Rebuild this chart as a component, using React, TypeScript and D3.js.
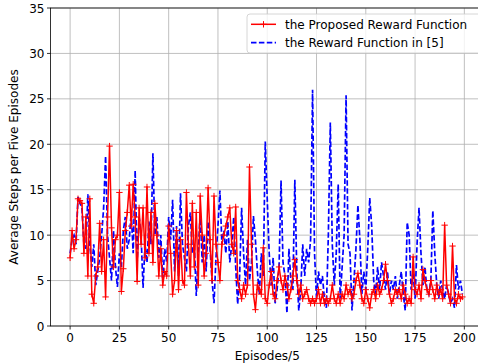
import * as d3 from 'd3'
import React, { useEffect, useRef } from 'react'

const proposed = [
  7.5, 10.5, 8.5, 9.5, 14.0, 13.8, 13.5, 8.0, 12.0, 5.5,
  14.0, 3.5, 2.5, 5.5, 6.5, 11.3, 6.0, 9.5, 3.2, 12.0,
  19.8, 10.8, 6.5, 9.5, 10.0, 14.7, 3.8, 6.3, 10.5, 12.5,
  15.5, 11.0, 15.6, 12.0, 4.9, 13.0, 9.0, 13.0, 7.5, 15.3,
  8.0, 12.5, 7.0, 13.5, 10.0, 5.5, 8.5, 4.5, 6.0, 5.5,
  11.0, 8.0, 3.5, 5.0, 10.5, 4.0, 9.5, 5.0, 4.5, 14.7,
  9.0, 5.5, 13.5, 6.5, 12.5, 4.5, 14.3, 10.0, 5.5, 8.0,
  15.2, 9.5, 5.0, 14.3, 9.0, 7.0, 5.0, 9.0, 10.0, 11.0,
  12.0, 13.0, 9.0, 8.0, 13.1, 5.0, 4.0, 3.0, 4.5, 3.5,
  4.5, 17.5, 9.0, 3.5, 1.8, 4.5, 4.0, 3.5, 8.6, 3.0,
  2.5, 4.5, 6.0, 3.5, 3.0, 5.0, 6.5, 5.0, 4.0, 5.5,
  4.5, 3.0, 4.0, 5.5, 7.3, 5.0, 3.5, 4.5, 3.0, 3.5,
  4.0, 3.0, 2.5, 3.0, 2.5, 3.0, 4.0, 2.5, 3.5, 2.5,
  3.0, 2.5, 3.0, 4.5, 3.0, 2.5, 3.5, 2.5, 3.5, 3.0,
  4.5, 3.5, 4.0, 3.0, 3.5, 5.0, 5.8, 4.5, 3.0, 2.5,
  4.0, 3.0, 2.0, 3.5, 4.0, 3.0, 4.5, 3.5, 4.0, 5.0,
  6.8, 5.0, 3.5, 2.5, 3.0, 4.0, 3.5, 4.0, 3.0, 4.5,
  3.5, 2.5, 3.0, 2.5, 7.6, 4.0, 3.5, 4.5, 3.0, 6.2,
  5.0, 4.0, 3.5, 5.0, 4.0, 3.0, 4.5, 3.5, 4.0, 3.0,
  11.1, 4.5, 3.5, 2.5, 8.8, 3.0, 2.5, 3.5, 3.0, 3.2,
]

const ref5 = [
  8.0, 9.5, 10.0, 9.0, 14.2, 13.5, 13.0, 9.0, 8.5, 14.5,
  9.0, 6.5, 9.0, 4.5, 6.0, 7.5, 10.0, 13.0, 18.7, 10.0,
  7.5, 5.0, 10.5, 6.5, 4.3, 8.0, 6.5, 10.5, 12.0, 8.5,
  9.5, 12.5, 8.0, 17.1, 7.0, 12.0, 10.0, 4.2, 9.0, 7.0,
  11.5, 9.0, 19.0, 10.0, 12.0, 7.5, 10.0, 5.0, 8.5, 7.0,
  12.0, 9.5, 13.9, 6.0, 11.0, 5.5, 14.6, 9.0, 7.5, 6.0,
  11.0, 12.5, 8.0, 9.0, 3.3, 8.0, 12.5, 7.0, 10.0, 6.0,
  11.5, 8.5, 5.0, 2.5, 7.5, 11.0, 14.9, 9.0, 10.5, 8.0,
  11.5, 7.0, 9.0, 12.0, 6.5, 2.4, 5.5, 13.0, 8.0, 4.5,
  9.5, 5.0, 7.0, 12.1, 9.5, 6.0, 3.5, 8.0, 5.5, 20.3,
  14.0, 8.0, 4.5, 7.5, 2.5, 4.0, 6.5, 16.0, 7.0, 5.5,
  1.4, 8.5, 5.0, 4.0, 16.1, 6.0, 1.7, 4.0, 9.0, 5.5,
  8.5, 7.0, 9.5, 26.0, 8.0, 3.0, 6.0, 4.5, 5.5, 3.0,
  2.0, 10.0, 22.4, 9.0, 4.5, 8.0, 15.6, 3.0, 6.5, 10.0,
  25.4, 9.0, 8.0, 1.7, 5.0, 8.5, 13.3, 9.5, 3.5, 6.0,
  4.0, 8.5, 14.1, 11.0, 5.0, 3.5, 6.5, 4.0, 7.0, 5.5,
  4.0, 6.0, 3.5, 5.0, 4.0, 5.5, 3.0, 4.5, 6.0, 3.5,
  1.7, 11.4, 10.0, 4.0, 6.0, 3.0, 9.0, 13.0, 8.0, 4.5,
  6.5, 4.0, 3.5, 5.0, 12.7, 8.0, 4.5, 3.0, 5.0, 4.0,
  3.0, 4.5, 3.5, 2.5, 3.0, 2.0, 6.7, 4.0, 5.0, 3.5,
]

const xTicks = [0, 25, 50, 75, 100, 125, 150, 175, 200]
const yTicks = [0, 5, 10, 15, 20, 25, 30, 35]
const legendLabels = ['the Proposed Reward Function', 'the Reward Function in [5]']

const Chart = () => {
  const chartRef = useRef(null)

  useEffect(() => {
    const width = 478
    const height = 364
    const left = 50.5
    const right = 482
    const top = 8
    const bottom = 326
    const font = 'DejaVu Sans, sans-serif'
    const fs = 12

    const svg = d3.select(chartRef.current).attr('width', width).attr('height', height)
    svg.selectAll('*').remove()
    svg.append('rect').attr('width', width).attr('height', height).attr('fill', '#fff')

    const x = d3.scaleLinear().domain([-9.95, 208.95]).range([left, right])
    const y = d3.scaleLinear().domain([0, 35]).range([bottom, top])

    svg
      .append('defs')
      .append('clipPath')
      .attr('id', 'plotclip')
      .append('rect')
      .attr('x', left)
      .attr('y', top)
      .attr('width', right - left)
      .attr('height', bottom - top)

    // grid
    const grid = svg.append('g')
    xTicks.forEach((t) => {
      grid
        .append('line')
        .attr('x1', x(t)).attr('x2', x(t))
        .attr('y1', top).attr('y2', bottom)
        .attr('stroke', '#b0b0b0').attr('stroke-width', 0.8)
    })
    yTicks.forEach((t) => {
      grid
        .append('line')
        .attr('x1', left).attr('x2', right)
        .attr('y1', y(t)).attr('y2', y(t))
        .attr('stroke', '#b0b0b0').attr('stroke-width', 0.8)
    })

    const line = d3
      .line<number>()
      .x((d, i) => x(i))
      .y((d) => y(d))

    const plot = svg.append('g').attr('clip-path', 'url(#plotclip)')

    plot
      .append('path')
      .datum(ref5)
      .attr('d', line)
      .attr('fill', 'none')
      .attr('stroke', '#0000ff')
      .attr('stroke-width', 1.7)
      .attr('stroke-dasharray', '5.5,2.4')

    plot
      .append('path')
      .datum(proposed)
      .attr('d', line)
      .attr('fill', 'none')
      .attr('stroke', '#ff0000')
      .attr('stroke-width', 1.5)
      .attr('stroke-linejoin', 'round')

    const m = 3.2
    plot
      .selectAll('.plus')
      .data(proposed)
      .enter()
      .append('path')
      .attr('d', (d, i) => {
        const cx = x(i)
        const cy = y(d)
        return `M${cx - m},${cy}H${cx + m}M${cx},${cy - m}V${cy + m}`
      })
      .attr('stroke', '#ff0000')
      .attr('stroke-width', 1)

    // spines
    svg
      .append('rect')
      .attr('x', left).attr('y', top)
      .attr('width', right - left).attr('height', bottom - top)
      .attr('fill', 'none').attr('stroke', '#000').attr('stroke-width', 0.8)

    // ticks
    xTicks.forEach((t) => {
      svg.append('line')
        .attr('x1', x(t)).attr('x2', x(t))
        .attr('y1', bottom).attr('y2', bottom + 3.5)
        .attr('stroke', '#000').attr('stroke-width', 0.8)
      svg.append('text')
        .attr('x', x(t)).attr('y', bottom + 16)
        .attr('text-anchor', 'middle')
        .attr('font-family', font).attr('font-size', fs)
        .text(t)
    })
    yTicks.forEach((t) => {
      svg.append('line')
        .attr('x1', left - 3.5).attr('x2', left)
        .attr('y1', y(t)).attr('y2', y(t))
        .attr('stroke', '#000').attr('stroke-width', 0.8)
      svg.append('text')
        .attr('x', left - 6).attr('y', y(t) + 4.5)
        .attr('text-anchor', 'end')
        .attr('font-family', font).attr('font-size', fs)
        .text(t)
    })

    svg.append('text')
      .attr('x', (x(0) + x(200)) / 2).attr('y', 360)
      .attr('text-anchor', 'middle')
      .attr('font-family', font).attr('font-size', fs)
      .text('Episodes/5')

    svg.append('text')
      .attr('transform', `translate(18, ${(top + bottom) / 2}) rotate(-90)`)
      .attr('text-anchor', 'middle')
      .attr('font-family', font).attr('font-size', fs)
      .text('Average Steps per Five Episodes')

    // legend
    const lg = svg.append('g')
    lg.append('rect')
      .attr('x', 247).attr('y', 14)
      .attr('width', 240).attr('height', 39)
      .attr('rx', 3)
      .attr('fill', '#fff').attr('fill-opacity', 0.8)
      .attr('stroke', '#cccccc').attr('stroke-width', 0.8)

    const rows = [24.3, 42.7]
    lg.append('line')
      .attr('x1', 251).attr('x2', 276)
      .attr('y1', rows[0]).attr('y2', rows[0])
      .attr('stroke', '#ff0000').attr('stroke-width', 1.5)
    lg.append('path')
      .attr('d', `M${263.5 - m},${rows[0]}H${263.5 + m}M263.5,${rows[0] - m}V${rows[0] + m}`)
      .attr('stroke', '#ff0000').attr('stroke-width', 1)
    lg.append('line')
      .attr('x1', 251).attr('x2', 276)
      .attr('y1', rows[1]).attr('y2', rows[1])
      .attr('stroke', '#0000ff').attr('stroke-width', 1.7)
      .attr('stroke-dasharray', '5.5,2.4')

    legendLabels.forEach((label, i) => {
      lg.append('text')
        .attr('x', 285).attr('y', rows[i] + 4.5)
        .attr('font-family', font).attr('font-size', fs)
        .text(label)
    })
  }, [])

  return <svg ref={chartRef} style={{ display: 'block' }}></svg>
}

export default function App() {
  return (
    <div style={{ position: 'absolute', left: 0, top: 0 }}>
      <Chart />
    </div>
  )
}
